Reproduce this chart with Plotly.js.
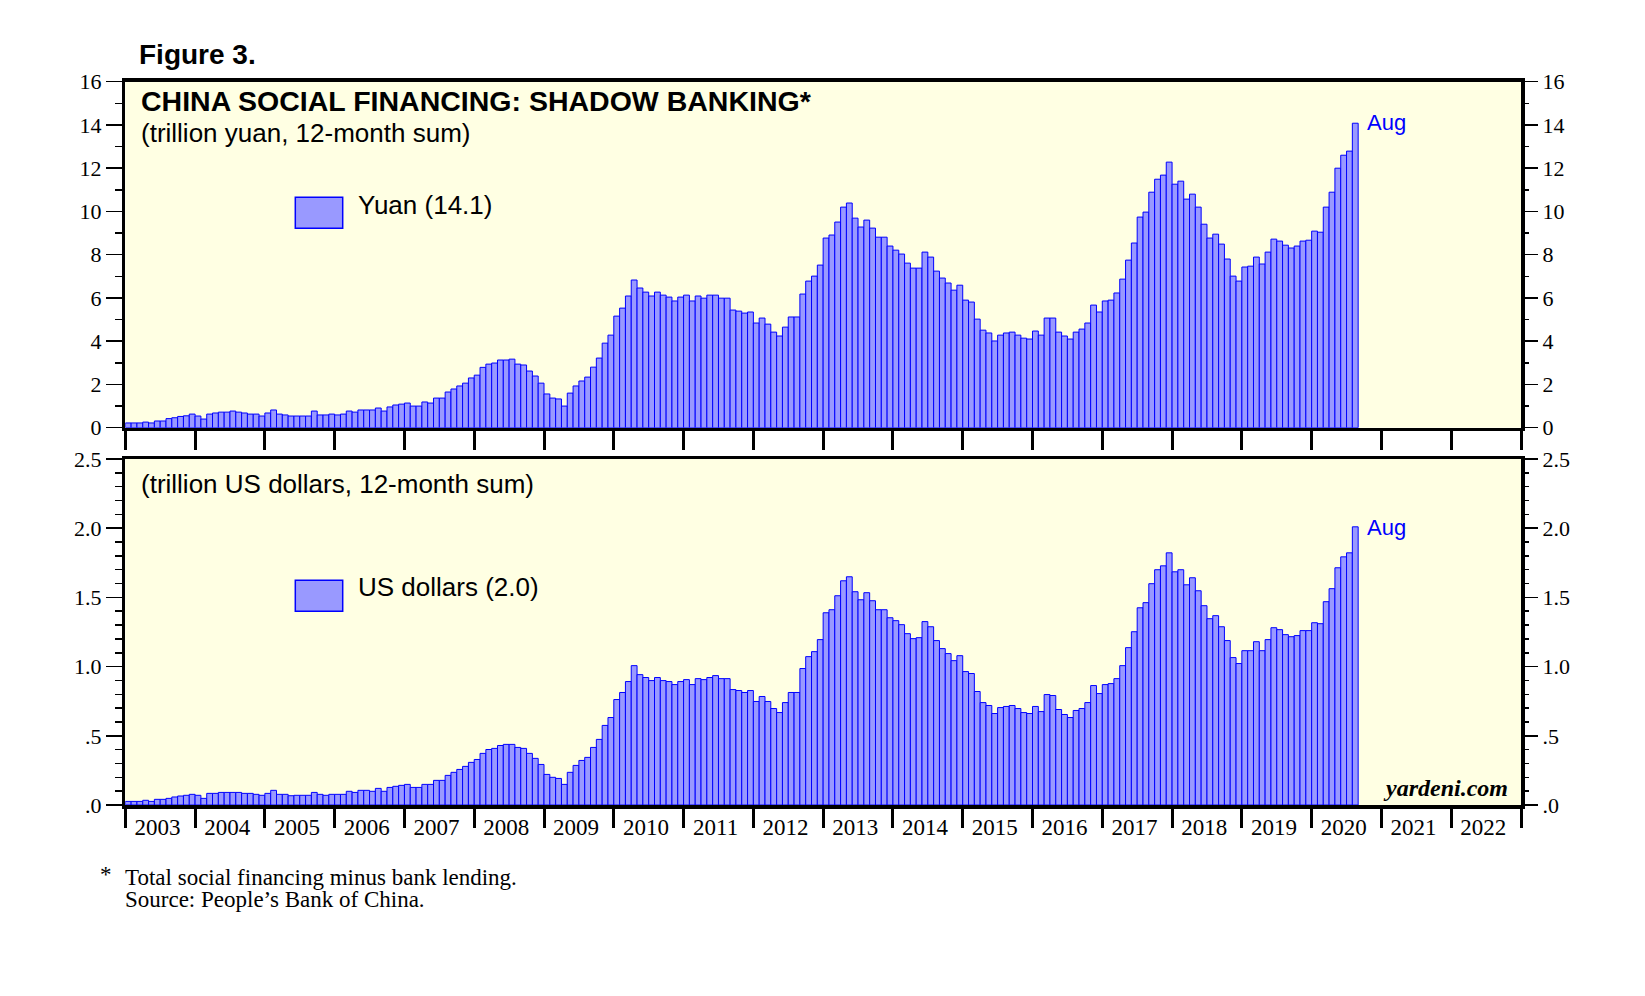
<!DOCTYPE html>
<html>
<head>
<meta charset="utf-8">
<script src="https://cdn.plot.ly/plotly-3.0.1.min.js"></script>
<style>html,body{margin:0;padding:0;background:#fff;}#chart{width:1645px;height:996px;}</style>
</head>
<body>
<div id="chart"></div>
<script>
// ---- DATA (12-month sums, monthly from Jan 2003 to Aug 2020) ----
const startYear = 2003;
const yuan = [
  0.22,0.22,0.22,0.26,0.22,0.31,0.31,0.42,0.46,0.52,0.55,0.63,
  0.54,0.40,0.63,0.68,0.72,0.72,0.77,0.72,0.68,0.63,0.63,0.54,
  0.68,0.82,0.63,0.59,0.54,0.54,0.54,0.54,0.77,0.59,0.59,0.63,
  0.59,0.63,0.77,0.72,0.82,0.82,0.82,0.91,0.77,0.96,1.05,1.09,
  1.14,1.00,1.00,1.19,1.14,1.37,1.37,1.65,1.79,1.93,2.06,2.30,
  2.43,2.79,2.94,2.99,3.13,3.13,3.17,2.94,2.90,2.62,2.39,2.06,
  1.56,1.37,1.33,1.00,1.60,1.93,2.16,2.34,2.80,3.22,3.91,4.28,
  5.16,5.53,6.09,6.83,6.46,6.27,6.09,6.27,6.13,6.04,5.86,6.04,
  6.13,5.86,6.09,5.99,6.13,6.13,5.99,5.99,5.44,5.39,5.30,5.35,
  4.84,5.07,4.79,4.42,4.24,4.65,5.12,5.12,6.18,6.78,7.01,7.52,
  8.77,8.91,9.51,10.20,10.39,9.69,9.28,9.60,9.23,8.81,8.81,8.40,
  8.21,8.03,7.61,7.38,7.38,8.12,7.89,7.24,6.92,6.69,6.36,6.59,
  5.90,5.81,5.02,4.51,4.38,4.01,4.28,4.38,4.42,4.28,4.14,4.10,
  4.47,4.28,5.07,5.07,4.42,4.24,4.10,4.42,4.56,4.84,5.67,5.35,
  5.86,5.90,6.23,6.87,7.75,8.54,9.74,9.97,10.89,11.49,11.68,12.28,
  11.26,11.40,10.57,10.80,10.20,9.41,8.77,8.95,8.49,7.80,7.01,6.78,
  7.43,7.47,7.89,7.57,8.12,8.72,8.63,8.44,8.31,8.40,8.63,8.67,
  9.09,9.04,10.20,10.89,12.00,12.60,12.79,14.08
];
const usd = [
  0.026,0.026,0.026,0.034,0.026,0.041,0.041,0.048,0.058,0.065,0.070,0.077,
  0.070,0.048,0.084,0.084,0.091,0.091,0.091,0.091,0.084,0.084,0.077,0.070,
  0.084,0.106,0.077,0.077,0.067,0.070,0.070,0.070,0.091,0.077,0.070,0.077,
  0.077,0.077,0.099,0.091,0.106,0.106,0.099,0.120,0.099,0.127,0.135,0.142,
  0.149,0.127,0.127,0.149,0.149,0.178,0.178,0.214,0.236,0.257,0.279,0.308,
  0.329,0.373,0.401,0.409,0.430,0.438,0.438,0.416,0.409,0.373,0.337,0.293,
  0.221,0.200,0.192,0.149,0.236,0.286,0.322,0.344,0.416,0.474,0.575,0.632,
  0.762,0.813,0.892,1.007,0.942,0.921,0.899,0.921,0.899,0.892,0.870,0.892,
  0.906,0.870,0.913,0.906,0.921,0.935,0.913,0.913,0.834,0.827,0.813,0.827,
  0.748,0.784,0.748,0.697,0.668,0.740,0.813,0.813,0.986,1.072,1.108,1.195,
  1.389,1.411,1.512,1.620,1.649,1.541,1.483,1.534,1.476,1.411,1.411,1.353,
  1.332,1.303,1.238,1.202,1.209,1.325,1.288,1.188,1.130,1.094,1.043,1.079,
  0.964,0.950,0.820,0.740,0.719,0.661,0.704,0.712,0.719,0.697,0.668,0.661,
  0.712,0.675,0.798,0.791,0.690,0.654,0.632,0.683,0.697,0.740,0.863,0.805,
  0.870,0.877,0.913,1.007,1.137,1.252,1.425,1.462,1.599,1.700,1.728,1.822,
  1.685,1.700,1.591,1.642,1.548,1.440,1.346,1.368,1.288,1.188,1.065,1.022,
  1.115,1.115,1.180,1.115,1.195,1.281,1.267,1.231,1.216,1.224,1.260,1.260,
  1.317,1.310,1.469,1.563,1.714,1.793,1.822,2.010
];
const yearLabels = ["2003","2004","2005","2006","2007","2008","2009","2010","2011","2012",
                    "2013","2014","2015","2016","2017","2018","2019","2020","2021","2022"];
const yuanTicks = [0,2,4,6,8,10,12,14,16];
const usdTickVals = [0,0.5,1,1.5,2,2.5];
const usdTickText = [".0",".5","1.0","1.5","2.0","2.5"];

// ---- GEOMETRY ----
const W = 1645, H = 996;
const px = v => v / W;
const py = v => 1 - v / H;
const X0 = 125.3, X1 = 1521;

// month positions (middle of each month, in fractional years)
const months = yuan.map((_, i) => startYear + (i + 0.5) / 12);

const barStyle = {color: '#9999FF', line: {color: '#0000FF', width: 1}};
const serif = "'Liberation Serif','Times New Roman',serif";
const sans = "'Liberation Sans',Arial,sans-serif";

const traces = [
  {type: 'bar', x: months, y: yuan, width: 1/12, marker: barStyle, xaxis: 'x', yaxis: 'y', hoverinfo: 'skip'},
  {type: 'bar', x: months, y: usd, width: 1/12, marker: barStyle, xaxis: 'x2', yaxis: 'y2', hoverinfo: 'skip'},
  {type: 'scatter', x: [], y: [], xaxis: 'x', yaxis: 'y3', hoverinfo: 'skip'},
  {type: 'scatter', x: [], y: [], xaxis: 'x2', yaxis: 'y4', hoverinfo: 'skip'},
  {type: 'scatter', x: [], y: [], xaxis: 'x3', yaxis: 'y2', hoverinfo: 'skip'}
];

const xBase = {
  range: [2003, 2023], tickmode: 'linear', tick0: 2003, dtick: 1,
  ticks: 'outside', ticklen: 19, tickwidth: 3, tickcolor: '#000',
  showticklabels: false, showline: true, linewidth: 3.5, linecolor: '#000',
  mirror: true, showgrid: false, zeroline: false, fixedrange: true
};
const yTickFont = {family: serif, size: 22, color: '#000'};
function yAxis(domain, range, vals, text, minorD, extra) {
  return Object.assign({
    domain: domain, range: range, tickmode: 'array', tickvals: vals, ticktext: text,
    ticks: 'outside', ticklen: 16, tickwidth: 1.5, tickcolor: '#000',
    minor: {tickmode: 'linear', tick0: 0, dtick: minorD, ticks: 'outside', ticklen: 7, tickwidth: 1.5, tickcolor: '#000', showgrid: false},
    showgrid: false, zeroline: false, tickfont: yTickFont, fixedrange: true
  }, extra);
}
const topDom = [py(427.7), py(81.7)];
const botDom = [py(805), py(459)];

const layout = {
  width: W, height: H,
  margin: {l: 0, r: 0, t: 0, b: 0},
  paper_bgcolor: '#ffffff', plot_bgcolor: '#FFFFE3',
  showlegend: false, bargap: 0,
  xaxis: Object.assign({}, xBase, {domain: [px(X0), px(X1)], anchor: 'y'}),
  xaxis2: Object.assign({}, xBase, {domain: [px(X0), px(X1)], anchor: 'y2'}),
  xaxis3: {
    overlaying: 'x2', anchor: 'y2', side: 'bottom', range: [2003, 2023],
    tickmode: 'array', tickvals: yearLabels.map(y => +y + 0.46), ticktext: yearLabels,
    ticks: 'outside', ticklen: 1, tickcolor: 'rgba(0,0,0,0)',
    showline: false, showgrid: false, zeroline: false,
    tickfont: {family: serif, size: 23, color: '#000'}, fixedrange: true
  },
  yaxis: yAxis(topDom, [0, 16], yuanTicks, yuanTicks.map(String), 1,
    {anchor: 'x', showline: true, linewidth: 3.5, linecolor: '#000', mirror: true}),
  yaxis3: yAxis(topDom, [0, 16], yuanTicks, yuanTicks.map(String), 1,
    {anchor: 'x', overlaying: 'y', side: 'right', showline: false}),
  yaxis2: yAxis(botDom, [0, 2.5], usdTickVals, usdTickText, 0.1,
    {anchor: 'x2', showline: true, linewidth: 3.5, linecolor: '#000', mirror: true}),
  yaxis4: yAxis(botDom, [0, 2.5], usdTickVals, usdTickText, 0.1,
    {anchor: 'x2', overlaying: 'y2', side: 'right', showline: false}),
  shapes: [
    {type: 'rect', xref: 'paper', yref: 'paper', x0: px(295.3), x1: px(342.7), y0: py(228.3), y1: py(197.3),
     fillcolor: '#9999FF', line: {color: '#0000FF', width: 1.5}},
    {type: 'rect', xref: 'paper', yref: 'paper', x0: px(295.3), x1: px(342.7), y0: py(611.3), y1: py(580.3),
     fillcolor: '#9999FF', line: {color: '#0000FF', width: 1.5}}
  ],
  annotations: [
    {text: '<b>Figure 3.</b>', x: px(137), y: py(54), xanchor: 'left', yanchor: 'middle',
     font: {family: sans, size: 28, color: '#000'}},
    {text: '<b>CHINA SOCIAL FINANCING: SHADOW BANKING*</b>', x: px(139), y: py(101), xanchor: 'left', yanchor: 'middle',
     font: {family: sans, size: 28.5, color: '#000'}},
    {text: '(trillion yuan, 12-month sum)', x: px(139), y: py(133), xanchor: 'left', yanchor: 'middle',
     font: {family: sans, size: 26, color: '#000'}},
    {text: 'Yuan (14.1)', x: px(356), y: py(205), xanchor: 'left', yanchor: 'middle',
     font: {family: sans, size: 26, color: '#000'}},
    {text: 'Aug', x: px(1365), y: py(123), xanchor: 'left', yanchor: 'middle',
     font: {family: sans, size: 22, color: '#0000FF'}},
    {text: '(trillion US dollars, 12-month sum)', x: px(139), y: py(484), xanchor: 'left', yanchor: 'middle',
     font: {family: sans, size: 26, color: '#000'}},
    {text: 'US dollars (2.0)', x: px(356), y: py(587), xanchor: 'left', yanchor: 'middle',
     font: {family: sans, size: 26, color: '#000'}},
    {text: 'Aug', x: px(1365), y: py(527), xanchor: 'left', yanchor: 'middle',
     font: {family: sans, size: 22, color: '#0000FF'}},
    {text: '<b><i>yardeni.com</i></b>', x: px(1381), y: py(788), xanchor: 'left', yanchor: 'middle',
     font: {family: serif, size: 24, color: '#000'}},
    {text: '*', x: px(98), y: py(874), xanchor: 'left', yanchor: 'middle',
     font: {family: serif, size: 23, color: '#000'}},
    {text: 'Total social financing minus bank lending.', x: px(123), y: py(877), xanchor: 'left', yanchor: 'middle',
     font: {family: serif, size: 23, color: '#000'}},
    {text: 'Source: People\u2019s Bank of China.', x: px(123), y: py(899), xanchor: 'left', yanchor: 'middle',
     font: {family: serif, size: 23, color: '#000'}}
  ].map(a => Object.assign({xref: 'paper', yref: 'paper', showarrow: false}, a))
};

Plotly.newPlot('chart', traces, layout, {staticPlot: true, displayModeBar: false});
</script>
</body>
</html>
